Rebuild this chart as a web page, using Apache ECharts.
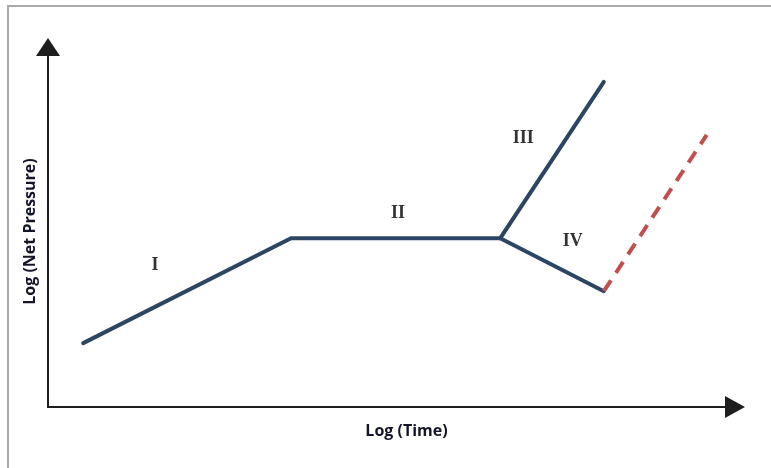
<!DOCTYPE html>
<html>
<head>
<meta charset="utf-8">
<script src="https://cdn.jsdelivr.net/npm/echarts@6/dist/echarts.min.js"></script>
<style>
  html, body { margin: 0; padding: 0; background: #fff; }
  #chart { width: 771px; height: 468px; }
</style>
</head>
<body>
<div id="chart"></div>
<script>
// 示意图数据（无单位，0-10 坐标）
let stageI_III = [[0.52, 1.82], [3.59, 4.81], [6.68, 4.81], [8.21, 9.26]];
let stageIV = [[6.68, 4.81], [8.21, 3.30]];
let redDashed = [[8.21, 3.30], [9.73, 7.75]];
let stageNames = ['I', 'II', 'III', 'IV'];
let stagePos = [[1.58, 4.05], [5.17, 5.53], [7.02, 7.64], [7.75, 4.73]];

let myChart = echarts.init(document.getElementById('chart'));

let labelData = stageNames.map((name, i) => ({ name: name, value: stagePos[i] }));

let axisFont = {
    fontFamily: 'Open Sans',
    fontWeight: 'bold',
    fontSize: 16,
    color: '#15152a'
};

let option = {
    animation: false,
    grid: { left: 48, right: 46, top: 56, bottom: 61 },
    graphic: [{
        type: 'rect',
        shape: { x: 8, y: 6, width: 900, height: 600 },
        style: { fill: 'none', stroke: '#aaaaaa', lineWidth: 2 },
        silent: true
    }],
    xAxis: {
        type: 'value',
        min: 0,
        max: 10,
        name: 'Log (Time)',
        nameLocation: 'middle',
        nameGap: 16,
        nameTextStyle: Object.assign({ padding: [0, 0, 0, 40] }, axisFont),
        axisLine: {
            show: true,
            symbol: ['none', 'triangle'],
            symbolSize: [22, 20],
            symbolOffset: [0, 10],
            lineStyle: { color: '#1e1e1e', width: 2 }
        },
        axisTick: { show: false },
        axisLabel: { show: false },
        splitLine: { show: false }
    },
    yAxis: {
        type: 'value',
        min: 0,
        max: 10,
        name: 'Log (Net Pressure)',
        nameLocation: 'middle',
        nameRotate: 90,
        nameGap: 10,
        nameTextStyle: axisFont,
        axisLine: {
            show: true,
            symbol: ['none', 'triangle'],
            symbolSize: [24, 18],
            symbolOffset: [0, 9],
            lineStyle: { color: '#1e1e1e', width: 2 }
        },
        axisTick: { show: false },
        axisLabel: { show: false },
        splitLine: { show: false }
    },
    series: [
        {
            type: 'line',
            data: stageI_III,
            symbol: 'none',
            lineStyle: { color: '#2c4563', width: 4, cap: 'round', join: 'miter' }
        },
        {
            type: 'line',
            data: stageIV,
            symbol: 'none',
            lineStyle: { color: '#2c4563', width: 4, cap: 'round' }
        },
        {
            type: 'line',
            data: redDashed,
            symbol: 'none',
            lineStyle: { color: '#c0504d', width: 4, type: [13, 9] }
        },
        {
            type: 'scatter',
            data: labelData,
            symbolSize: 0,
            label: {
                show: true,
                position: 'inside',
                formatter: '{b}',
                fontFamily: 'Liberation Serif',
                fontWeight: 'bold',
                fontSize: 18,
                color: '#000'
            }
        }
    ]
};

myChart.setOption(option);
</script>
</body>
</html>
